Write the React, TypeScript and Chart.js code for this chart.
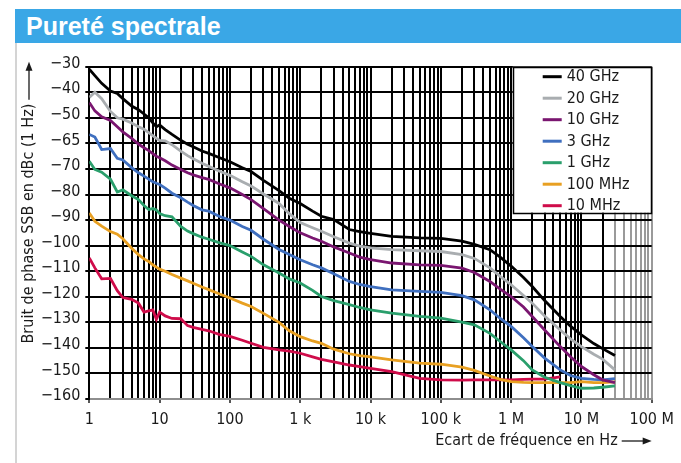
import { useEffect, useRef } from 'react';
import { Chart, registerables } from 'chart.js';

Chart.register(...registerables);

// Frequency offsets (Hz) shared by all series
const freqs = [1, 1.2, 1.5, 2, 2.5, 3, 4, 5, 6, 7, 8, 9, 10, 12, 15, 20, 25, 30, 40, 50, 70, 100, 150, 200, 300, 500, 700,
  1e3, 1.5e3, 2e3, 3e3, 5e3, 7e3, 1e4, 2e4, 5e4, 1e5, 2e5, 3e5, 5e5, 7e5, 1e6, 1.5e6, 2e6, 3e6, 5e6, 7e6, 1e7, 1.5e7, 2e7, 3e7];

const s40GHz = [-31, -33.5, -36.5, -39.5, -40.5, -42.5, -45.4, -46.8, -48.5, -50, -52, -53.5, -52.8, -54.6, -56.5, -58.8, -60.3, -61.3, -63, -63.9, -65.5, -67.2, -69.5, -71, -74.5, -78.5, -81.5,
  -83.5, -86.5, -88.5, -89.8, -93.7, -94.5, -95.2, -96.4, -97, -97.2, -98.2, -99.5, -101.6, -104.5, -108, -112.5, -116, -121.5, -127.7, -131.5, -134.9, -138.3, -140.3, -143];
const s20GHz = [-42, -40, -42.5, -47.5, -50, -50.5, -52, -53.5, -54.5, -55.8, -57, -58, -58.8, -59, -60.5, -63, -64.8, -66, -67.8, -69, -70.8, -72.5, -75, -76.7, -79.8, -83.5, -87.5,
  -91, -93, -94.4, -96.5, -99, -100.2, -100.9, -101.6, -102, -102.3, -103.5, -105, -108.7, -112, -115.3, -119.5, -122.5, -127.5, -133, -136.5, -139.5, -142.5, -144.4, -148.6];
const s10GHz = [-44, -47.3, -49.6, -51, -53.5, -55.5, -58, -60.3, -61.7, -62.8, -64, -65, -65.6, -66.8, -68.5, -70.2, -71.5, -72.3, -73.4, -74.1, -75.8, -77.4, -80, -82, -85.5, -90, -92.5,
  -95, -97, -98.3, -100.5, -102.9, -104.5, -105.5, -106.8, -107.5, -107.7, -108.8, -110.5, -114, -117, -119.9, -124, -127.7, -133, -139.5, -143.5, -147.3, -150.5, -152.5, -153.6];
const s3GHz = [-56.5, -57.5, -62.4, -62, -65.8, -66.5, -69.5, -71.5, -72.8, -74, -75, -75.6, -76.1, -77.5, -79.5, -81.3, -83, -84.3, -86, -86.5, -88.5, -90, -92.5, -94, -97.5, -101.5, -103.5,
  -105.5, -107.5, -108.7, -111, -114, -115.2, -116, -117.3, -117.9, -118.3, -119.6, -121.2, -125.1, -128.5, -131.6, -136, -139.5, -144, -148.6, -150.8, -151.9, -152.3, -152.5, -152];
const s1GHz = [-67, -70.2, -71.3, -74, -79, -78.2, -80.5, -82, -84.3, -85.9, -85.5, -86, -87.5, -88.3, -88.7, -92.5, -94.3, -95.3, -96.7, -97.5, -98.8, -100, -102.5, -104.2, -107.5, -110.7, -113,
  -114.6, -117.5, -119.9, -121.5, -123.1, -124.2, -125.1, -126.4, -127.7, -128.4, -129.9, -131, -134.3, -137.5, -140.8, -145, -148.6, -151.5, -153.6, -154.8, -155.8, -155.7, -155.4, -154.9];
const s100MHz = [-87.2, -90.5, -92.4, -94.5, -95.5, -97.3, -101, -103.5, -105.2, -106.2, -107.5, -108.4, -109.2, -110, -111.3, -112.7, -113.8, -114.7, -116.2, -117.2, -118.8, -120.5, -122.5, -123.8, -126.5, -130, -133.3,
  -135.6, -137.3, -138.2, -140.5, -142.3, -143, -143.5, -144.7, -146, -146.4, -147.5, -148.8, -151, -152.3, -153.2, -153.5, -153.6, -153.6, -153.6, -153.6, -153.2, -153.6, -153.6, -153.3];
const s10MHz = [-104.8, -108.7, -113, -112.8, -117.6, -120.3, -121, -122.5, -126, -125.5, -125.1, -128.8, -126, -127.5, -128.5, -128.6, -131.3, -132, -132.8, -133.3, -134.7, -135.5, -137, -138.2, -139.8, -140.8, -141.3,
  -142.1, -143.5, -144.5, -145.5, -146.7, -147.3, -148, -149.3, -151.9, -152.5, -152.6, -152.5, -152.5, -152.5, -152.5, -152.3, -152.2, -152.2, -151.3, null, null, null, null, null];

const seriesLabels = ['40 GHz', '20 GHz', '10 GHz', '3 GHz', '1 GHz', '100 MHz', '10 MHz'];
const seriesValues = [s40GHz, s20GHz, s10GHz, s3GHz, s1GHz, s100MHz, s10MHz];
const seriesColors = ['#000000', '#a9adb0', '#7a1670', '#3f6fbf', '#2a9f6c', '#e8a022', '#cf0c4a'];

const xDecades = [1, 10, 100, 1e3, 1e4, 1e5, 1e6, 1e7, 1e8];
const xTickLabels = ['1', '10', '100', '1 k', '10 k', '100 k', '1 M', '10 M', '100 M'];
const yTickValues = [-160, -150, -140, -130, -120, -110, -100, -90, -80, -70, -60, -50, -40, -30];
const yTickLabels = ['−160', '−150', '−140', '−130', '−120', '−110', '−100', '−90', '−80', '−70', '−65', '−50', '−40', '−30'];

const xTitle = 'Ecart de fréquence en Hz';
const yTitle = 'Bruit de phase SSB en dBc (1 Hz)';

const FONT = '"DejaVu Sans Condensed", "DejaVu Sans", sans-serif';
const TEXT = '#1a1a1a';

const decadeIndex = (v: number) => xDecades.findIndex((d) => Math.abs(Math.log10(v) - Math.log10(d)) < 1e-6);

const decorPlugin = {
  id: 'decor',
  afterDraw(chart: any) {
    const { ctx, chartArea } = chart;
    ctx.save();
    // legend box
    const w = 139, h = 146;
    const x0 = chartArea.right - w, y0 = chartArea.top;
    ctx.fillStyle = '#ffffff';
    ctx.fillRect(x0, y0, w, h);
    ctx.strokeStyle = '#000';
    ctx.lineWidth = 1.5;
    ctx.strokeRect(Math.round(x0) + 0.5, Math.round(y0) + 0.5, w - 1, h);
    chart.data.datasets.forEach((ds: any, i: number) => {
      const cy = y0 + 10 + i * 21.5;
      ctx.strokeStyle = ds.borderColor;
      ctx.lineWidth = 3;
      ctx.beginPath();
      ctx.moveTo(x0 + 30, cy);
      ctx.lineTo(x0 + 49, cy);
      ctx.stroke();
      ctx.fillStyle = TEXT;
      ctx.font = '16px ' + FONT;
      ctx.textAlign = 'left';
      ctx.textBaseline = 'middle';
      ctx.fillText(ds.label, x0 + 54, cy + 0.5);
    });

    // x title with arrow
    ctx.font = '16px ' + FONT;
    ctx.fillStyle = TEXT;
    ctx.strokeStyle = TEXT;
    ctx.textBaseline = 'middle';
    ctx.textAlign = 'right';
    const xr = chartArea.right;
    const ty = 441;
    ctx.fillText(xTitle, xr - 34, ty);
    ctx.lineWidth = 1.3;
    ctx.beginPath();
    ctx.moveTo(xr - 30, ty);
    ctx.lineTo(xr - 6, ty);
    ctx.stroke();
    ctx.beginPath();
    ctx.moveTo(xr, ty);
    ctx.lineTo(xr - 9, ty - 3.5);
    ctx.lineTo(xr - 9, ty + 3.5);
    ctx.closePath();
    ctx.fill();

    // y title with arrow
    const tx = 29;
    const top = chartArea.top - 5;
    ctx.save();
    ctx.translate(tx, top + 42);
    ctx.rotate(-Math.PI / 2);
    ctx.textAlign = 'right';
    ctx.fillText(yTitle, 0, 0);
    ctx.restore();
    ctx.beginPath();
    ctx.moveTo(tx, top + 38);
    ctx.lineTo(tx, top + 6);
    ctx.stroke();
    ctx.beginPath();
    ctx.moveTo(tx, top);
    ctx.lineTo(tx - 3.5, top + 9);
    ctx.lineTo(tx + 3.5, top + 9);
    ctx.closePath();
    ctx.fill();
    ctx.restore();
  },
};

export default function App() {
  const ref = useRef<HTMLCanvasElement | null>(null);

  useEffect(() => {
    if (!ref.current) return;
    Chart.defaults.font.family = FONT;
    Chart.defaults.font.size = 16;
    Chart.defaults.color = TEXT;

    const datasets = seriesLabels.map((label, i) => ({
      label,
      data: freqs
        .map((f, j) => ({ x: f, y: seriesValues[i][j] }))
        .filter((p) => p.y !== null),
      borderColor: seriesColors[i],
      backgroundColor: seriesColors[i],
      borderWidth: 2.8,
      pointRadius: 0,
      fill: false,
      tension: 0,
    }));

    const chart = new Chart(ref.current, {
      type: 'line',
      data: { datasets },
      plugins: [decorPlugin],
      options: {
        animation: false,
        responsive: false,
        maintainAspectRatio: false,
        layout: { padding: { left: 0, top: 66.7, right: 29.3, bottom: 0 } },
        plugins: { legend: { display: false }, tooltip: { enabled: false } },
        scales: {
          x: {
            type: 'logarithmic',
            min: 1,
            max: 1e8,
            afterBuildTicks: (scale: any) => {
              const t: any[] = [];
              for (let d = 0; d < xDecades.length - 1; d++) {
                for (let m = 1; m <= 9; m++) t.push({ value: m * xDecades[d] });
              }
              t.push({ value: xDecades[xDecades.length - 1] });
              scale.ticks = t;
            },
            afterFit: (scale: any) => {
              scale.height = 64;
            },
            ticks: {
              autoSkip: false,
              maxRotation: 0,
              minRotation: 0,
              padding: 7,
              color: TEXT,
              font: { size: 16, family: FONT },
              callback: (v: any) => {
                const i = decadeIndex(Number(v));
                return i >= 0 ? xTickLabels[i] : '';
              },
            },
            grid: {
              color: (c: any) => (c.tick && c.tick.value >= 2.9e7 ? '#9a9a9a' : '#000000'),
              lineWidth: 2,
              tickLength: 4,
              tickColor: (c: any) => (c.tick && decadeIndex(c.tick.value) >= 0 ? '#555' : 'rgba(0,0,0,0)'),
            },
            border: { display: true, color: '#8e8e8e', width: 2 },
          },
          y: {
            type: 'linear',
            min: -160,
            max: -30,
            afterBuildTicks: (scale: any) => {
              scale.ticks = yTickValues.map((v) => ({ value: v }));
            },
            afterFit: (scale: any) => {
              scale.width = 89.3;
            },
            ticks: {
              padding: 5,
              labelOffset: -3,
              color: TEXT,
              font: { size: 16, family: FONT },
              callback: (v: any) => {
                const i = yTickValues.indexOf(Number(v));
                return i >= 0 ? yTickLabels[i] : '';
              },
            },
            grid: {
              color: (c: any) => (c.tick && c.tick.value === -160 ? 'rgba(0,0,0,0)' : '#000000'),
              lineWidth: 2,
              tickLength: 4,
              tickColor: '#000',
            },
            border: { display: true, color: '#000', width: 2 },
          },
        },
      },
    } as any);

    return () => chart.destroy();
  }, []);

  return (
    <div style={{ position: 'absolute', left: 0, top: 0, width: 681, height: 463, background: '#fff', overflow: 'hidden' }}>
      <canvas ref={ref} width={681} height={463} style={{ position: 'absolute', left: 0, top: 0, width: 681, height: 463 }} />
      <div
        style={{
          position: 'absolute',
          left: 15,
          top: 9,
          width: 666,
          height: 34,
          background: '#3aa7e6',
          color: '#fff',
          fontFamily: '"Liberation Sans", Arial, sans-serif',
          fontWeight: 'bold',
          fontSize: 25,
          lineHeight: '34px',
          paddingLeft: 11,
          boxSizing: 'border-box',
          whiteSpace: 'nowrap',
        }}
      >
        Pureté spectrale
      </div>
      <div style={{ position: 'absolute', left: 15, top: 43, width: 2, height: 420, background: '#d4d4d4' }} />
    </div>
  );
}
